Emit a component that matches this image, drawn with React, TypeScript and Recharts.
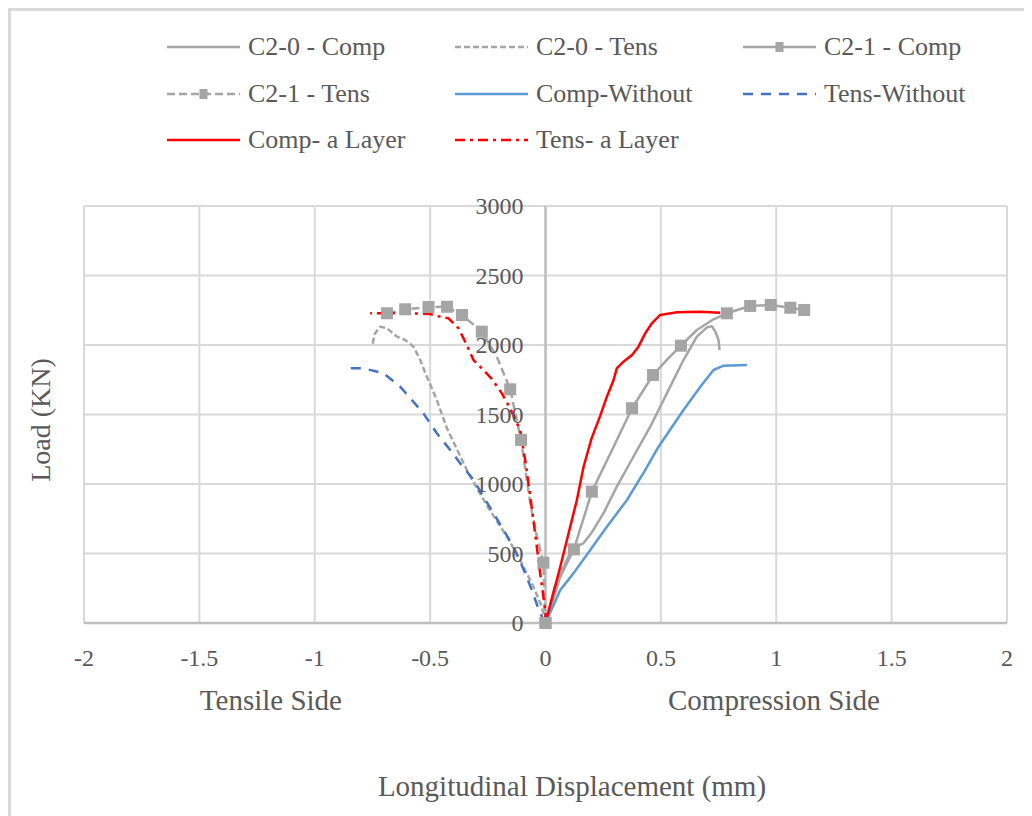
import React from 'react';
import { LineChart, Line, XAxis, YAxis, CartesianGrid, ReferenceLine, Legend } from 'recharts';

const xTicks = [-2, -1.5, -1, -0.5, 0, 0.5, 1, 1.5, 2];
const yTicks = [0, 500, 1000, 1500, 2000, 2500, 3000];

const seriesNames = [
  'C2-0 - Comp',
  'C2-0 - Tens',
  'C2-1 - Comp',
  'C2-1 - Tens',
  'Comp-Without',
  'Tens-Without',
  'Comp- a Layer',
  'Tens- a Layer',
];

const c20Comp: [number, number][] = [
  [0, 0], [0.04, 260], [0.1, 480], [0.13, 545], [0.165, 575], [0.2, 650], [0.251, 789],
  [0.309, 981], [0.381, 1196], [0.454, 1412], [0.526, 1652], [0.598, 1892], [0.656, 2060],
  [0.7, 2127], [0.721, 2135], [0.736, 2096], [0.75, 2036], [0.754, 1964],
];

const c20Tens: [number, number][] = [
  [0, 0], [-0.016, 117], [-0.052, 261], [-0.11, 453], [-0.167, 621], [-0.254, 845],
  [-0.341, 1101], [-0.427, 1400], [-0.471, 1604], [-0.514, 1772], [-0.543, 1892],
  [-0.572, 1988], [-0.608, 2036], [-0.644, 2060], [-0.687, 2120], [-0.717, 2132],
  [-0.74, 2080], [-0.752, 1990],
];

const c21Comp: [number, number][] = [
  [0, 0], [0.02, 94], [0.064, 333], [0.123, 530], [0.201, 945], [0.29, 1250], [0.375, 1545],
  [0.466, 1784], [0.53, 1900], [0.587, 1995], [0.656, 2108], [0.728, 2185], [0.786, 2228],
  [0.887, 2281], [0.976, 2288], [1.061, 2268], [1.121, 2252],
];
const c21CompMarkers = [0, 3, 4, 6, 7, 9, 12, 13, 14, 15, 16];

const c21Tens: [number, number][] = [
  [0, 0], [-0.009, 434], [-0.037, 621], [-0.066, 861], [-0.106, 1317], [-0.153, 1681],
  [-0.211, 1916], [-0.276, 2096], [-0.362, 2216], [-0.427, 2275], [-0.507, 2273],
  [-0.608, 2257], [-0.687, 2228],
];
const c21TensMarkers = [0, 1, 4, 5, 7, 8, 9, 10, 11, 12];

const compWithout: [number, number][] = [
  [0, 0], [0.03, 110], [0.064, 237], [0.121, 357], [0.194, 525], [0.266, 693], [0.353, 885],
  [0.43, 1095], [0.49, 1268], [0.598, 1532], [0.671, 1700], [0.728, 1820], [0.772, 1851],
  [0.873, 1856],
];

const tensWithout: [number, number][] = [
  [0, 0], [-0.015, 45], [-0.03, 100], [-0.06, 240], [-0.1, 405], [-0.139, 549],
  [-0.182, 669], [-0.225, 789], [-0.269, 909], [-0.312, 1029], [-0.37, 1149], [-0.413, 1245],
  [-0.471, 1365], [-0.529, 1508], [-0.579, 1604], [-0.63, 1700], [-0.702, 1796],
  [-0.789, 1832], [-0.854, 1832],
];

const compLayer: [number, number][] = [
  [0, 0], [0.064, 405], [0.136, 885], [0.165, 1124], [0.2, 1330], [0.237, 1490], [0.266, 1628],
  [0.295, 1748], [0.309, 1832], [0.338, 1880], [0.375, 1928], [0.403, 1988], [0.432, 2084],
  [0.461, 2156], [0.497, 2216], [0.57, 2235], [0.671, 2240], [0.757, 2232],
];

const tensLayer: [number, number][] = [
  [0, 0], [0, 70], [-0.009, 189], [-0.023, 357], [-0.045, 645], [-0.066, 909], [-0.088, 1173],
  [-0.11, 1388], [-0.153, 1544], [-0.189, 1652], [-0.232, 1755], [-0.269, 1820],
  [-0.312, 1892], [-0.341, 2000], [-0.377, 2120], [-0.42, 2192], [-0.471, 2209],
  [-0.499, 2223], [-0.586, 2228], [-0.673, 2228], [-0.76, 2228],
];

const FONT = "'Liberation Serif', 'Times New Roman', serif";
const TXT = '#595959';
const GRAY = '#a5a5a5';

const CH_W = 1021;
const CH_H = 805;
const Y_W = 1;
const M = { top: 195, right: 25, left: 72, bottom: 153 };
const PLOT_LEFT = M.left + Y_W;
const PLOT_W = CH_W - PLOT_LEFT - M.right;

const toData = (pts: [number, number][], marks?: number[]) =>
  pts.map(([x, y], i) => ({ x, y, m: marks ? marks.includes(i) : false }));

const styles: Record<string, { color: string; dash?: string; marker?: boolean }> = {
  'C2-0 - Comp': { color: GRAY },
  'C2-0 - Tens': { color: GRAY, dash: '6 3' },
  'C2-1 - Comp': { color: GRAY, marker: true },
  'C2-1 - Tens': { color: GRAY, dash: '8 4', marker: true },
  'Comp-Without': { color: '#5b9bd5' },
  'Tens-Without': { color: '#4472c4', dash: '10 8' },
  'Comp- a Layer': { color: '#ff0000' },
  'Tens- a Layer': { color: '#ff0000', dash: '10 5 3 5' },
};

const seriesData: Record<string, any[]> = {
  'C2-0 - Comp': toData(c20Comp),
  'C2-0 - Tens': toData(c20Tens),
  'C2-1 - Comp': toData(c21Comp, c21CompMarkers),
  'C2-1 - Tens': toData(c21Tens, c21TensMarkers),
  'Comp-Without': toData(compWithout),
  'Tens-Without': toData(tensWithout),
  'Comp- a Layer': toData(compLayer),
  'Tens- a Layer': toData(tensLayer),
};

const MarkerDot = (props: any) => {
  const { cx, cy, payload, index } = props;
  if (!payload || !payload.m || cx == null || cy == null) return <g key={`d${index}`} />;
  return <rect key={`d${index}`} x={cx - 6} y={cy - 6} width={12} height={12} fill={GRAY} />;
};

const LegendContent = () => (
  <div
    style={{
      display: 'grid',
      gridTemplateColumns: '288px 288px 288px',
      gridAutoRows: '46.5px',
      paddingLeft: 156,
      paddingTop: 13,
      fontFamily: FONT,
      fontSize: 26,
      color: TXT,
    }}
  >
    {seriesNames.map((n) => {
      const s = styles[n];
      return (
        <div key={n} style={{ display: 'flex', alignItems: 'center', height: 46.5 }}>
          <svg width={73} height={20} style={{ display: 'block' }}>
            <line x1={0} y1={10} x2={73} y2={10} stroke={s.color} strokeWidth={2.5} strokeDasharray={s.dash} />
            {s.marker && <rect x={32.5} y={5} width={8} height={10} fill={s.color} />}
          </svg>
          <span style={{ marginLeft: 8, whiteSpace: 'nowrap', lineHeight: '30px' }}>{n}</span>
        </div>
      );
    })}
  </div>
);

const YTick = (props: any) => {
  const { y, payload } = props;
  return (
    <text
      x={PLOT_LEFT + PLOT_W / 2 - 22}
      y={y}
      dy="0.35em"
      textAnchor="end"
      fontFamily={FONT}
      fontSize={24}
      fill={TXT}
    >
      {payload.value}
    </text>
  );
};

const XLabels = (props: any) => {
  const vb = props.viewBox || { x: PLOT_LEFT, y: CH_H - M.bottom - 40, width: PLOT_W, height: 40 };
  return (
    <g fontFamily={FONT} fill={TXT}>
      <text x={vb.x + vb.width * 0.2025} y={689} dy="0.35em" textAnchor="middle" fontSize={29}>
        Tensile Side
      </text>
      <text x={vb.x + vb.width * 0.7475} y={689} dy="0.35em" textAnchor="middle" fontSize={29}>
        Compression Side
      </text>
      <text x={vb.x + vb.width * 0.5287} y={775} dy="0.35em" textAnchor="middle" fontSize={29}>
        Longitudinal Displacement (mm)
      </text>
    </g>
  );
};

const YLabel = () => (
  <text
    x={29}
    y={409}
    dy="0.35em"
    textAnchor="middle"
    transform="rotate(-90 29 409)"
    fontFamily={FONT}
    fontSize={28}
    fill={TXT}
  >
    Load (KN)
  </text>
);

export default function App() {
  return (
    <div
      style={{
        width: 1024,
        height: 808,
        boxSizing: 'border-box',
        borderTop: '3px solid #d9d9d9',
        borderLeft: '3px solid #d9d9d9',
        background: '#fff',
        position: 'relative',
      }}
    >
      <LineChart width={CH_W} height={CH_H} margin={M}>
        <CartesianGrid stroke="#d9d9d9" strokeWidth={2} />
        <XAxis
          dataKey="x"
          type="number"
          domain={[-2, 2]}
          ticks={xTicks}
          allowDataOverflow
          height={40}
          axisLine={{ stroke: '#bfbfbf', strokeWidth: 2.5 }}
          tickLine={false}
          tickSize={0}
          tickMargin={26}
          tick={{ fontFamily: FONT, fontSize: 24, fill: TXT }}
          label={{ content: XLabels }}
        />
        <YAxis
          type="number"
          domain={[0, 3000]}
          ticks={yTicks}
          width={Y_W}
          axisLine={false}
          tickLine={false}
          tickSize={0}
          interval={0}
          tick={YTick}
          label={{ content: YLabel }}
        />
        <ReferenceLine x={0} stroke="#bfbfbf" strokeWidth={2.5} />
        {seriesNames.map((n) => {
          const s = styles[n];
          return (
            <Line
              key={n}
              name={n}
              data={seriesData[n]}
              dataKey="y"
              type="linear"
              stroke={s.color}
              strokeWidth={2.5}
              strokeDasharray={s.dash}
              strokeLinejoin="round"
              dot={s.marker ? MarkerDot : false}
              activeDot={false}
              isAnimationActive={false}
            />
          );
        })}
        <Legend
          verticalAlign="middle"
          align="center"
          layout="horizontal"
          wrapperStyle={{ top: 0, left: 0, width: CH_W, height: 170 }}
          content={LegendContent}
        />
      </LineChart>
    </div>
  );
}
